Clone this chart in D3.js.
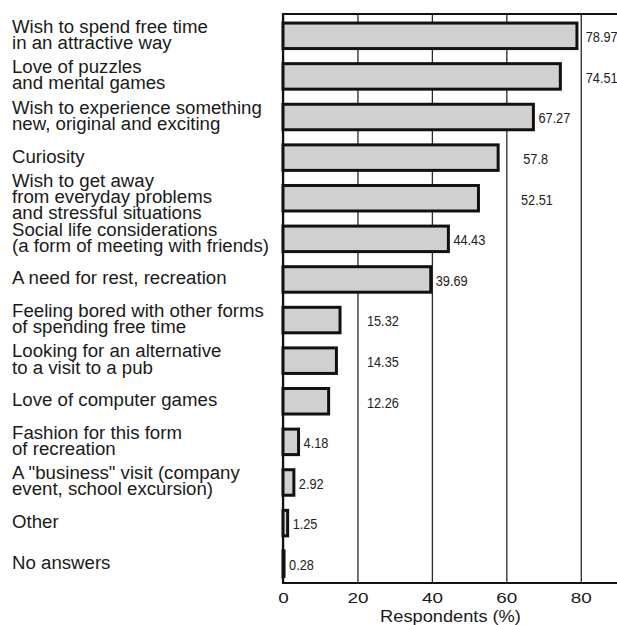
<!DOCTYPE html>
<html>
<head>
<meta charset="utf-8">
<script src="https://cdn.jsdelivr.net/npm/d3@7"></script>
<style>
  html, body { margin: 0; padding: 0; background: #fff; }
  svg { display: block; font-family: "Liberation Sans", Arial, Helvetica, sans-serif; }
</style>
</head>
<body>
<svg id="chart" width="617" height="625"></svg>
<script>
// Reasons for visiting, share of respondents (%)
const categories = [
  "Wish to spend free time\nin an attractive way",
  "Love of puzzles\nand mental games",
  "Wish to experience something\nnew, original and exciting",
  "Curiosity",
  "Wish to get away\nfrom everyday problems\nand stressful situations",
  "Social life considerations\n(a form of meeting with friends)",
  "A need for rest, recreation",
  "Feeling bored with other forms\nof spending free time",
  "Looking for an alternative\nto a visit to a pub",
  "Love of computer games",
  "Fashion for this form\nof recreation",
  "A \"business\" visit (company\nevent, school excursion)",
  "Other",
  "No answers"
];
const values = [78.97, 74.51, 67.27, 57.8, 52.51, 44.43, 39.69, 15.32, 14.35, 12.26, 4.18, 2.92, 1.25, 0.28];
const tickValues = [0, 20, 40, 60, 80];
const axisTitle = "Respondents (%)";

// Some value labels sit in a column (in % units) instead of right at the bar tip
const labelColumn = [80, 80, null, 63.2, 62.6, null, null, 21.2, 21.2, 21.2, null, null, null, null];

const W = 617, H = 625;
const plotTop = 14, plotBottom = 583;

const svg = d3.select("#chart");
svg.append("rect").attr("width", W).attr("height", H).attr("fill", "#fff");

const x = d3.scaleLinear().domain([0, 90]).range([283, 618]);
const y = d3.scaleBand()
  .domain(d3.range(values.length))
  .range([15.5, 584])
  .paddingInner(0.372)
  .paddingOuter(0.186);

// Gridlines and tick labels from the bottom axis
const axis = svg.append("g")
  .attr("transform", `translate(0,${plotBottom})`)
  .call(d3.axisBottom(x)
    .tickValues(tickValues)
    .tickSize(-(plotBottom - plotTop))
    .tickPadding(9)
    .tickFormat(d3.format("d")));
axis.select(".domain").remove();
axis.selectAll(".tick line")
  .attr("stroke", "#2a2a2a")
  .attr("stroke-width", 1.3);
axis.selectAll(".tick text")
  .attr("fill", "#1a1a1a")
  .attr("font-size", 15.5)
  .attr("font-family", "'Liberation Sans', Arial, sans-serif")
  .attr("transform", "scale(1.22,1)");

// Frame: top rule, left axis, bottom axis
svg.append("line").attr("x1", x(0)).attr("x2", W).attr("y1", plotTop).attr("y2", plotTop)
  .attr("stroke", "#111").attr("stroke-width", 2);
svg.append("line").attr("x1", x(0)).attr("x2", x(0)).attr("y1", plotTop - 1).attr("y2", plotBottom + 1)
  .attr("stroke", "#111").attr("stroke-width", 2.2);
svg.append("line").attr("x1", x(0)).attr("x2", W).attr("y1", plotBottom).attr("y2", plotBottom)
  .attr("stroke", "#111").attr("stroke-width", 2);

// Bars
svg.append("g").selectAll("rect")
  .data(values)
  .join("rect")
  .attr("x", x(0))
  .attr("y", (d, i) => y(i))
  .attr("width", d => x(d) - x(0))
  .attr("height", y.bandwidth())
  .attr("fill", "#d0d0d0")
  .attr("stroke", "#111")
  .attr("stroke-width", 3);

// Value labels
svg.append("g").selectAll("text")
  .data(values)
  .join("text")
  .attr("transform", (d, i) => {
    const at = labelColumn[i] == null ? d : Math.max(d, labelColumn[i]);
    return `translate(${x(at) + 5},${y(i) + y.bandwidth() / 2 + 6.3}) scale(0.88,1)`;
  })
  .attr("font-size", 14.5)
  .attr("fill", "#222")
  .text(d => String(d));

// Category labels: one text per category, one tspan per line
const lineStep = 16.3;
svg.append("g").selectAll("text")
  .data(categories)
  .join("text")
  .attr("transform", (label, i) => {
    const n = label.split("\n").length;
    const center = y(i) + y.bandwidth() / 2;
    const first = center + 5 - (n - 1) * 8.3;
    return `translate(12,${first}) scale(1.06,1)`;
  })
  .attr("font-size", 17.6)
  .attr("fill", "#1a1a1a")
  .each(function (label) {
    const t = d3.select(this);
    label.split("\n").forEach((ln, j) => {
      t.append("tspan").attr("x", 0).attr("dy", j === 0 ? 0 : lineStep).text(ln);
    });
  });

// Axis title
svg.append("text")
  .attr("transform", `translate(${x(45)},621.5) scale(1.14,1)`)
  .attr("text-anchor", "middle")
  .attr("font-size", 16)
  .attr("fill", "#1a1a1a")
  .text(axisTitle);
</script>
</body>
</html>
